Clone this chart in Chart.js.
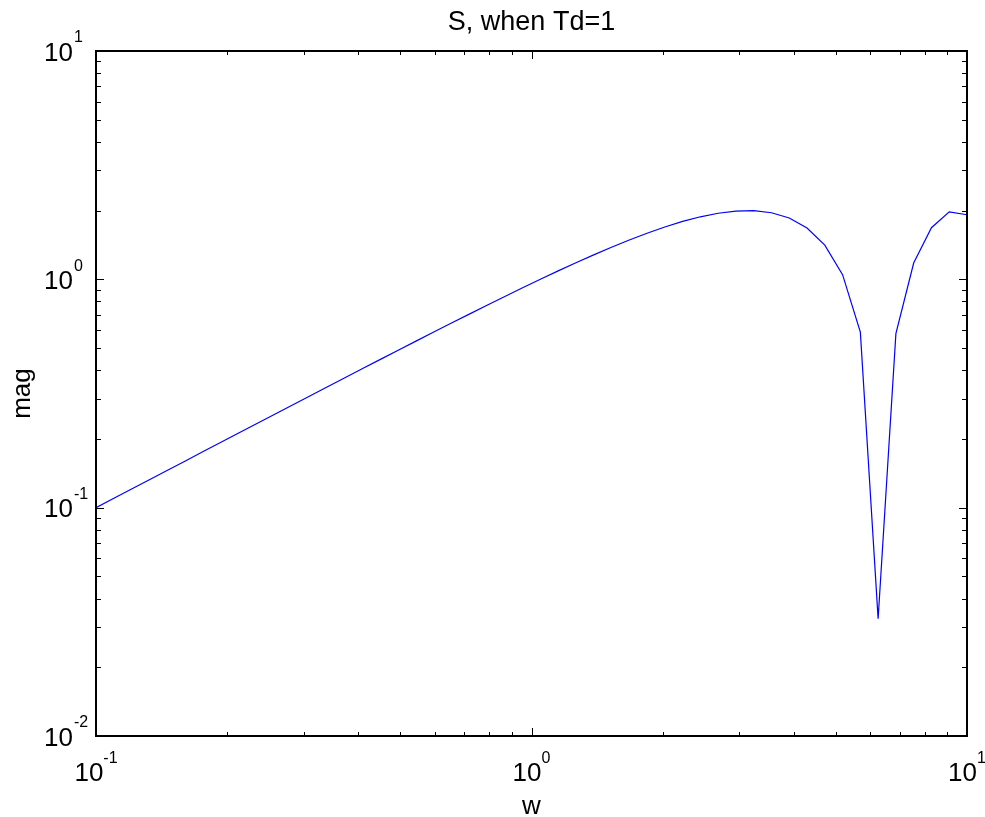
<!DOCTYPE html>
<html>
<head>
<meta charset="utf-8">
<title>S, when Td=1</title>
<script src="https://cdn.jsdelivr.net/npm/chart.js@4.4.1/dist/chart.umd.min.js"></script>
<style>
  body { margin: 0; background: #fff; }
  canvas { display: block; }
</style>
</head>
<body>
<canvas id="chart" width="985" height="817"></canvas>
<script>
// frequency samples (w) and magnitude
var freq = [0.1, 0.1099, 0.1207, 0.1326, 0.1456, 0.16, 0.1758, 0.1931, 0.2121, 0.233,
            0.256, 0.2812, 0.3089, 0.3393, 0.3728, 0.4095, 0.4498, 0.4942, 0.5429, 0.5964,
            0.6551, 0.7197, 0.7906, 0.8685, 0.9541, 1.0481, 1.1514, 1.2649, 1.3895, 1.5264,
            1.6768, 1.842, 2.0236, 2.223, 2.4421, 2.6827, 2.9471, 3.2375, 3.5565, 3.9069,
            4.2919, 4.7149, 5.1795, 5.6899, 6.2506, 6.8665, 7.5431, 8.2864, 9.103, 10];
var mag = [0.1, 0.1099, 0.1207, 0.1325, 0.1455, 0.1598, 0.1756, 0.1928, 0.2117, 0.2325,
           0.2553, 0.2803, 0.3077, 0.3377, 0.3706, 0.4066, 0.446, 0.4892, 0.5363, 0.5876,
           0.6435, 0.7042, 0.7701, 0.8414, 0.9183, 1.001, 1.089, 1.182, 1.28, 1.382,
           1.487, 1.592, 1.696, 1.793, 1.879, 1.947, 1.99, 1.998, 1.957, 1.856,
           1.677, 1.412, 1.048, 0.587, 0.0326, 0.578, 1.179, 1.683, 1.974, 1.918];

// axis decades (tick labels are 10^n)
var xDecades = [-1, 0, 1];
var yDecades = [-2, -1, 0, 1];

var points = [];
for (var i = 0; i < freq.length; i++) {
  points.push({ x: freq[i], y: mag[i] });
}

var FONT = '"Liberation Sans", Arial, Helvetica, sans-serif';

// box, inward ticks on all four sides and 10^n labels
var logFrame = {
  id: 'logFrame',
  afterDraw: function(chart) {
    var ctx = chart.ctx;
    var a = chart.chartArea;
    var xs = chart.scales.x, ys = chart.scales.y;
    ctx.save();
    ctx.strokeStyle = '#000';
    ctx.lineWidth = 1;
    ctx.beginPath();
    for (var d = xDecades[0]; d < xDecades[xDecades.length - 1]; d++) {
      for (var m = 1; m <= 9; m++) {
        var px = Math.round(xs.getPixelForValue(m * Math.pow(10, d))) + 0.5;
        var len = m === 1 ? 8 : 4;
        ctx.moveTo(px, a.bottom); ctx.lineTo(px, a.bottom - len);
        ctx.moveTo(px, a.top); ctx.lineTo(px, a.top + len);
      }
    }
    for (var d = yDecades[0]; d < yDecades[yDecades.length - 1]; d++) {
      for (var m = 1; m <= 9; m++) {
        var py = Math.round(ys.getPixelForValue(m * Math.pow(10, d))) + 0.5;
        var len = m === 1 ? 8 : 5;
        ctx.moveTo(a.left, py); ctx.lineTo(a.left + len, py);
        ctx.moveTo(a.right, py); ctx.lineTo(a.right - len, py);
      }
    }
    ctx.stroke();

    ctx.lineWidth = 2;
    ctx.strokeRect(a.left, a.top, a.right - a.left, a.bottom - a.top);

    ctx.fillStyle = '#000';
    ctx.textBaseline = 'alphabetic';
    var big = 26, small = 16;

    // y labels
    yDecades.forEach(function(n) {
      var py = ys.getPixelForValue(Math.pow(10, n));
      ctx.font = big + 'px ' + FONT;
      ctx.textAlign = 'right';
      ctx.fillText('10', 73, py + 0.5 + big * 0.358);
      ctx.font = small + 'px ' + FONT;
      ctx.textAlign = 'left';
      ctx.fillText(String(n), 74, py - 14.5 + small * 0.358);
    });

    // x labels
    xDecades.forEach(function(n) {
      var px = xs.getPixelForValue(Math.pow(10, n));
      ctx.font = big + 'px ' + FONT;
      var w10 = ctx.measureText('10').width;
      ctx.font = small + 'px ' + FONT;
      var wExp = ctx.measureText(String(n)).width;
      var start = px - (w10 + wExp) / 2;
      ctx.textAlign = 'left';
      ctx.font = big + 'px ' + FONT;
      ctx.fillText('10', start, 772 + big * 0.358);
      ctx.font = small + 'px ' + FONT;
      ctx.fillText(String(n), start + w10, 757.5 + small * 0.358);
    });
    ctx.restore();
  }
};

new Chart(document.getElementById('chart'), {
  type: 'line',
  data: {
    datasets: [{
      data: points,
      borderColor: '#0000ff',
      borderWidth: 1.2,
      pointRadius: 0,
      tension: 0,
      fill: false
    }]
  },
  options: {
    responsive: false,
    animation: false,
    devicePixelRatio: 1,
    layout: { padding: { top: 0, right: 18, bottom: 0, left: 0 } },
    plugins: {
      legend: { display: false },
      tooltip: { enabled: false },
      title: {
        display: true,
        text: 'S, when Td=1',
        fullSize: false,
        color: '#000',
        font: { family: FONT, size: 27, weight: 'normal', lineHeight: 1.2 },
        padding: { top: 6, bottom: 12.6 }
      }
    },
    scales: {
      x: {
        type: 'logarithmic',
        min: 0.1,
        max: 10,
        grid: { display: false },
        border: { display: false },
        ticks: { display: false },
        title: {
          display: true,
          text: 'w',
          color: '#000',
          font: { family: FONT, size: 26, lineHeight: 0.8 },
          padding: { top: 0, bottom: 0 }
        },
        afterFit: function(scale) { scale.height = 81; }
      },
      y: {
        type: 'logarithmic',
        min: 0.01,
        max: 10,
        grid: { display: false },
        border: { display: false },
        ticks: { display: false },
        title: {
          display: true,
          text: 'mag',
          color: '#000',
          font: { family: FONT, size: 26, lineHeight: 1 },
          padding: { top: 10, bottom: 0 }
        },
        afterFit: function(scale) { scale.width = 96; }
      }
    }
  },
  plugins: [logFrame]
});
</script>
</body>
</html>
